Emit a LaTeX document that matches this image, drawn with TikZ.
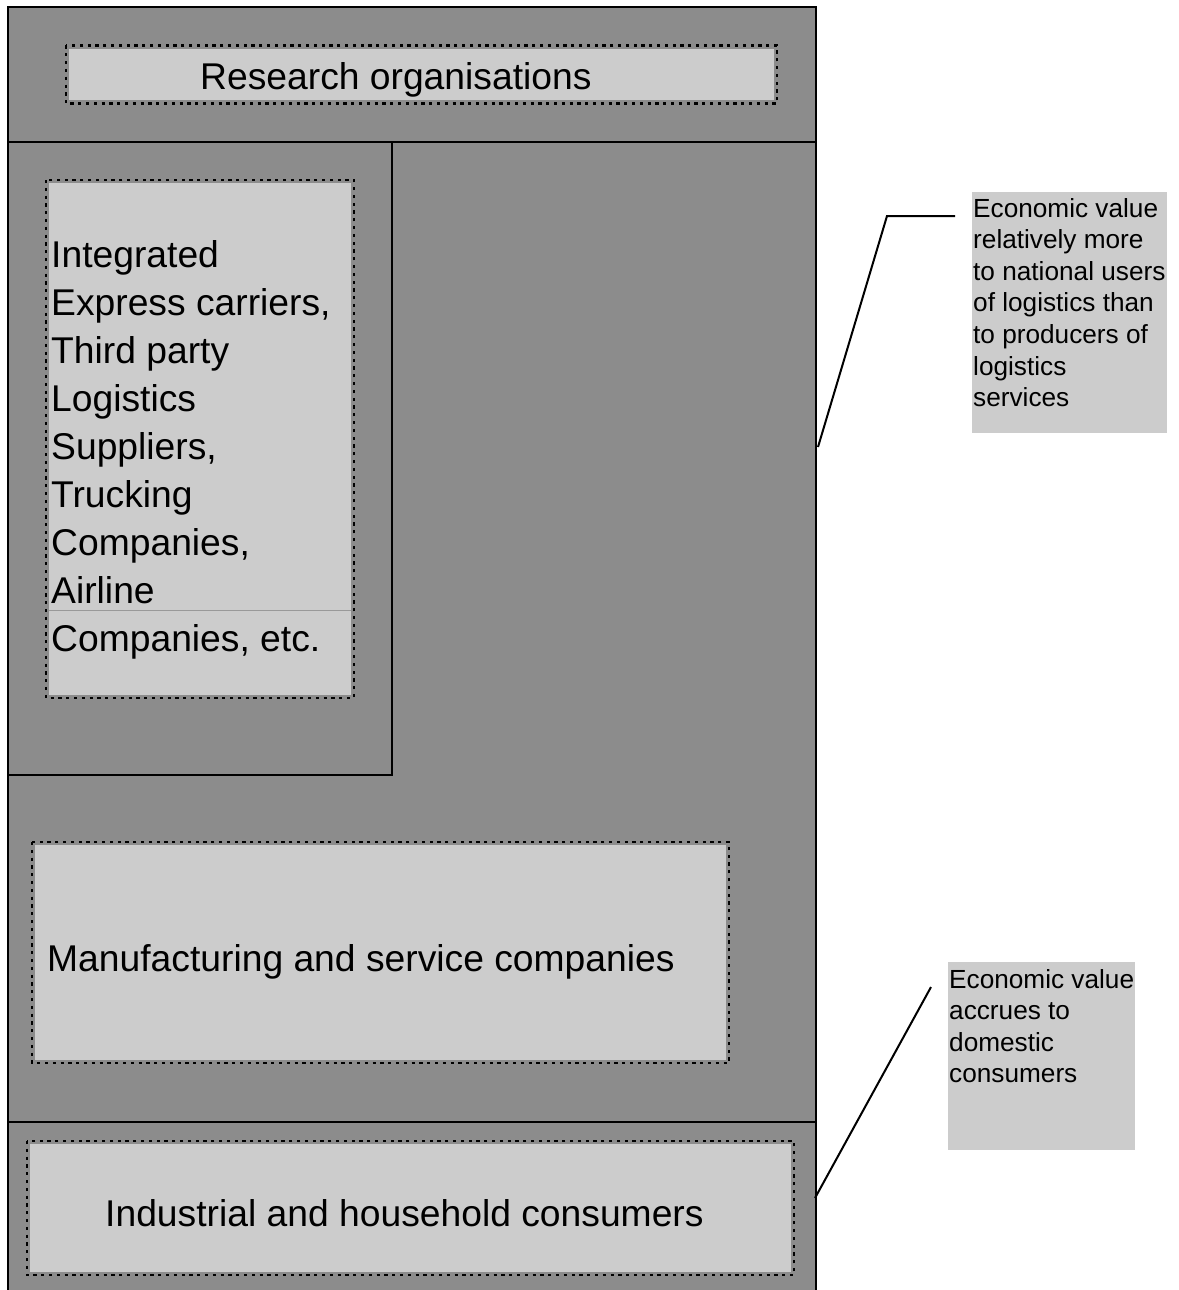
\documentclass[tikz,border=0pt]{standalone}
\usepackage{fontspec}
\setmainfont{Liberation Sans}
\definecolor{panel}{HTML}{8C8C8C}
\definecolor{boxfill}{HTML}{CCCCCC}
\definecolor{rulegray}{HTML}{999999}
\begin{document}
\begin{tikzpicture}[x=1pt,y=-1pt,
  frameline/.style={draw=black,line width=1.5pt},
  dotbox/.style={draw=black,line width=2.1pt,dash pattern=on 3.2pt off 4.6pt},
  lbl/.style={anchor=base west,inner sep=0pt,font=\fontsize{37.25}{48}\selectfont},
  note/.style={anchor=base west,inner sep=0pt,font=\fontsize{26.2}{31.6}\selectfont},
  notebox/.style={fill=boxfill,anchor=north west,inner sep=0pt},
  lead/.style={draw=black,line width=2pt}]
% page
\clip (0,0) rectangle (1178,1290);
\fill[white] (0,0) rectangle (1178,1290);

% outer panel and its divisions
\filldraw[fill=panel,frameline] (8,7) rectangle (816,1310);
\draw[frameline] (8,142) -- (816,142);
\draw[frameline] (392,142) -- (392,775) -- (8,775);
\draw[frameline] (8,1122) -- (816,1122);

% research organisations
\fill[boxfill] (69,49) rectangle (774,100);
\draw[dotbox] (66,45.5) rectangle (777,103.5);
\node[lbl] (research) at (200,89) {Research organisations};

% logistics providers
\fill[boxfill] (49,183) rectangle (351,695);
\draw[dotbox] (46,180) rectangle (354,698);
\draw[rulegray,line width=1pt] (49,610) -- (351,610);
\node[lbl] (providers) at (51,267) {\vtop{\hbox{Integrated}\hbox{Express carriers,}\hbox{Third party}\hbox{Logistics}\hbox{Suppliers,}\hbox{Trucking}\hbox{Companies,}\hbox{Airline}\hbox{Companies, etc.}}};

% manufacturing and service companies
\fill[boxfill] (35,845) rectangle (726,1060);
\draw[dotbox] (32,842) rectangle (729,1063);
\node[lbl] (manufacturing) at (47,971) {Manufacturing and service companies};

% consumers
\fill[boxfill] (30,1144) rectangle (791,1272);
\draw[dotbox] (27,1141) rectangle (794,1275);
\node[lbl] (consumers) at (105,1226) {Industrial and household consumers};

% callout: national users
\node[notebox,minimum width=195pt,minimum height=241pt] (usersbox) at (972,192) {};
\node[note] (userstext) at (973,217) {\vtop{\hbox{Economic value}\hbox{relatively more}\hbox{to national users}\hbox{of logistics than}\hbox{to producers of}\hbox{logistics}\hbox{services}}};
\coordinate (usersfoot) at (818,447);
\coordinate (usersknee) at (887,216);
\coordinate (userstip) at (955,216);
\draw[lead] (usersfoot) -- (usersknee) -- (userstip);

% callout: domestic consumers
\node[notebox,minimum width=187pt,minimum height=188pt] (domesticbox) at (948,962) {};
\node[note] (domestictext) at (949,988) {\vtop{\hbox{Economic value}\hbox{accrues to}\hbox{domestic}\hbox{consumers}}};
\coordinate (domesticfoot) at (815,1198);
\coordinate (domestictip) at (931,987);
\draw[lead] (domesticfoot) -- (domestictip);
\end{tikzpicture}
\end{document}
